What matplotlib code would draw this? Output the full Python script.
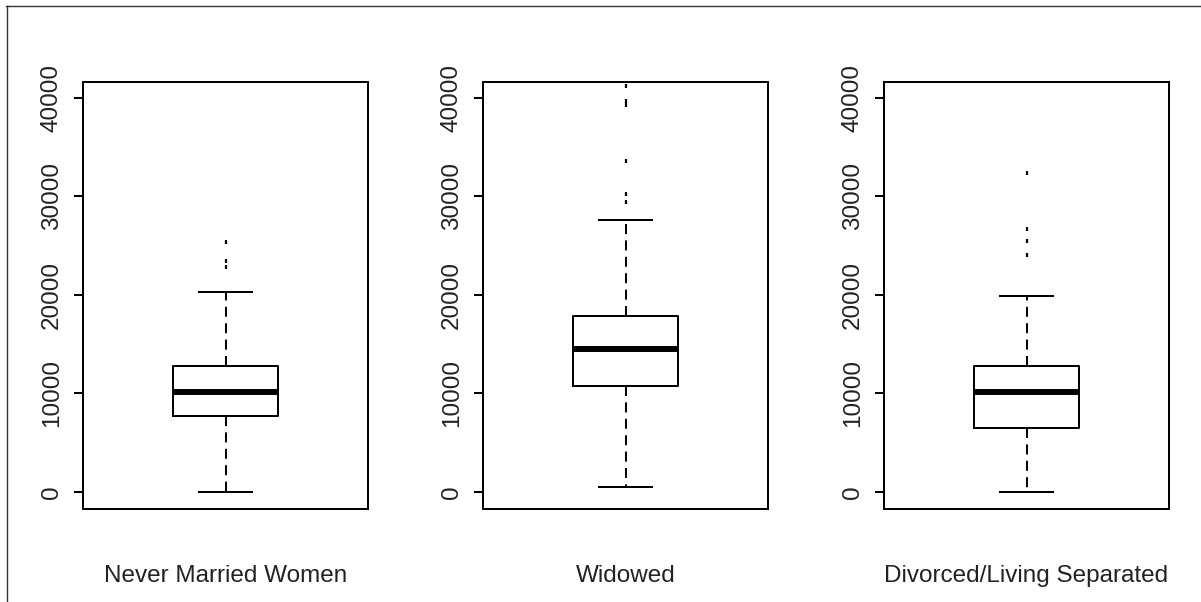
import matplotlib
matplotlib.use("Agg")
import matplotlib.pyplot as plt
from matplotlib.lines import Line2D

plt.rcParams['font.family'] = ['Liberation Sans', 'DejaVu Sans']

categories = ["Never Married Women", "Widowed", "Divorced/Living Separated"]
whisker_low = [0, 510, 0]
q1 = [7716, 10760, 6500]
median = [10152, 14520, 10152]
q3 = [12792, 17870, 12790]
whisker_high = [20330, 27615, 19900]
outliers = [
    [22870, 23480, 25350],
    [29440, 30250, 33630, 39250, 39700, 41220],
    [24030, 25480, 26670, 32360],
]
yticks = [0, 10000, 20000, 30000, 40000]
ytick_labels = ["0", "10000", "20000", "30000", "40000"]

W, H = 1201, 602
fig = plt.figure(figsize=(W / 100, H / 100), dpi=100)

lefts = [83, 483, 884]
ax_w = 285
top, bottom = 82, 509

lw = 1.44
for i, cat in enumerate(categories):
    ax = fig.add_axes([lefts[i] / W, 1 - bottom / H, ax_w / W, (bottom - top) / H])
    stats = [dict(med=median[i], q1=q1[i], q3=q3[i], whislo=whisker_low[i],
                  whishi=whisker_high[i], fliers=outliers[i], label=cat)]
    ax.bxp(stats, positions=[1], widths=0.4, capwidths=0.2, showfliers=True,
           boxprops=dict(color='black', linewidth=lw),
           whiskerprops=dict(color='black', linewidth=lw, linestyle=(0, (5, 3.2))),
           capprops=dict(color='black', linewidth=lw),
           medianprops=dict(color='black', linewidth=4.3, solid_capstyle='butt'),
           flierprops=dict(marker='|', markersize=3, markeredgewidth=1.6,
                           markeredgecolor='black', linestyle='none'))
    ax.set_xlim(0.46, 1.54)
    ax.set_ylim(-1726, 41624)
    ax.set_xticks([])
    ax.set_yticks(yticks)
    ax.set_yticklabels(ytick_labels, rotation=90, va='center', fontsize=17.5)
    ax.tick_params(axis='y', length=6.5, width=lw, pad=8, colors='black',
                   labelcolor='#222222')
    for s in ax.spines.values():
        s.set_linewidth(lw)
        s.set_color('black')
    cx = (lefts[i] + ax_w / 2) / W
    fig.text(cx, 20 / H, cat, ha='center', va='baseline', fontsize=17.5, color='#222222')

# outer frame lines (top and left)
fig.add_artist(Line2D([6 / W, 1], [1 - 5.5 / H, 1 - 5.5 / H], transform=fig.transFigure,
                      color='#333333', linewidth=1.0))
fig.add_artist(Line2D([6.5 / W, 6.5 / W], [0, 1 - 5.5 / H], transform=fig.transFigure,
                      color='#333333', linewidth=1.0))

fig.savefig("out.png", dpi=100)
